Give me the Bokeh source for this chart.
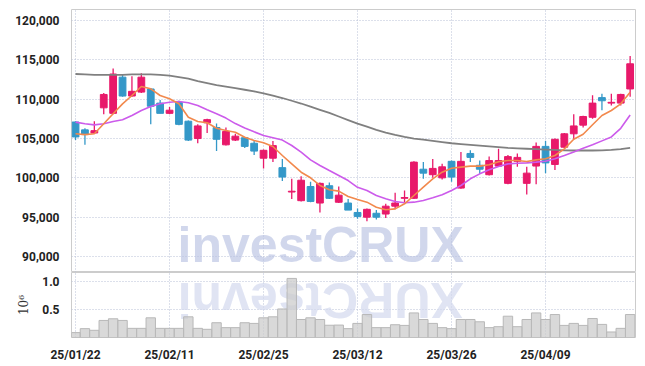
import math
from bokeh.plotting import figure
from bokeh.models import Range1d, FixedTicker, NumeralTickFormatter, Label, ColumnDataSource
from bokeh.layouts import column
from bokeh.embed import file_html
from bokeh.resources import INLINE

dates = ["2025-01-22", "2025-01-23", "2025-01-24", "2025-01-31",
         "2025-02-03", "2025-02-04", "2025-02-05", "2025-02-06", "2025-02-07", "2025-02-10",
         "2025-02-11", "2025-02-12", "2025-02-13", "2025-02-14", "2025-02-17", "2025-02-18",
         "2025-02-19", "2025-02-20", "2025-02-21", "2025-02-24", "2025-02-25", "2025-02-26",
         "2025-02-27", "2025-02-28",
         "2025-03-04", "2025-03-05", "2025-03-06", "2025-03-07", "2025-03-10", "2025-03-11",
         "2025-03-12", "2025-03-13", "2025-03-14", "2025-03-17", "2025-03-18", "2025-03-19",
         "2025-03-20", "2025-03-21", "2025-03-24", "2025-03-25", "2025-03-26", "2025-03-27",
         "2025-03-28", "2025-03-31",
         "2025-04-01", "2025-04-02", "2025-04-03", "2025-04-04", "2025-04-07", "2025-04-08",
         "2025-04-09", "2025-04-10", "2025-04-11", "2025-04-14", "2025-04-15", "2025-04-16",
         "2025-04-17", "2025-04-18", "2025-04-21", "2025-04-22"]

opens = [107100, 106100, 105700, 108900, 108200, 112800, 110400, 110900, 111300, 109500,
         108200, 109600, 107200, 105000, 107000, 106400, 104200, 104800, 105100, 104400,
         102500, 102500, 101300, 98200, 97100, 98900, 96800, 99000, 96900, 96800,
         95600, 95000, 95500, 95400, 96400, 97400, 97400, 101100, 100400, 100000,
         102100, 98700, 103100, 101600, 100400, 101500, 99300, 102100, 99300, 101500,
         104000, 101700, 103900, 105600, 106700, 107700, 110200, 109500, 109500, 111300]
highs = [107200, 106300, 107200, 110800, 113900, 113100, 112900, 113300, 111400, 109900,
         109000, 109800, 107300, 106800, 107500, 106900, 106400, 105600, 105200, 104700,
         103600, 104700, 102400, 99900, 100200, 99500, 99400, 99400, 98900, 97300,
         96100, 96100, 95900, 96700, 98100, 98400, 102100, 102000, 102400, 101800,
         102200, 103300, 103500, 102200, 102700, 103700, 102900, 103100, 101400, 104500,
         104700, 105000, 105700, 108100, 107900, 110500, 110700, 110700, 110700, 115500]
lows = [104800, 104200, 105600, 108100, 108100, 110300, 110300, 110800, 106800, 108200,
        108100, 106700, 104700, 104400, 105700, 103400, 104100, 104700, 103800, 102900,
        101200, 102000, 99600, 97300, 97000, 96900, 95600, 97300, 96800, 95900,
        94800, 94500, 94700, 94900, 96000, 96800, 97300, 99900, 100000, 99800,
        99500, 98600, 102000, 100500, 100300, 101400, 99200, 101400, 97900, 99200,
        100600, 101000, 103800, 104900, 106400, 107500, 108600, 109200, 109200, 110300]
closes = [105200, 105500, 106000, 110600, 113200, 110400, 111000, 112800, 109100, 108200,
          108600, 106800, 104800, 106600, 107400, 104900, 105900, 105300, 104000, 103400,
          103500, 104100, 100100, 98300, 99700, 97000, 99300, 97400, 97800, 95900,
          95100, 96000, 95000, 96400, 96800, 97500, 102000, 100600, 101200, 101400,
          100100, 102100, 102600, 101100, 102200, 102200, 102700, 102600, 100600, 104000,
          101900, 104900, 105600, 106600, 107800, 109500, 109800, 109600, 110600, 114500]

ma5 = [105600, 105500, 105600, 106870, 108140, 109410, 110470, 111610, 111320, 110470,
       110050, 109410, 107710, 107160, 107000, 106300, 106020, 105800, 105170, 104750,
       104450, 103990, 102840, 101780, 100720, 100010, 99030, 98480, 98310, 97630,
       97250, 96910, 96270, 95940, 96060, 96700, 97760, 98820, 99880, 100720,
       101230, 101360, 101490, 101490, 101660, 102050, 102200, 102200, 102080, 102290,
       102420, 102840, 103690, 104900, 105550, 106750, 107930, 108560, 109410, 110890]
ma20 = [107080, 106870, 106740, 106870, 107160, 107380, 107930, 108560, 109070, 109410,
        109620, 109700, 109540, 109200, 108650, 108150, 107600, 106900, 106350, 105850,
        105380, 105100, 104800, 104110, 103260, 102290, 101570, 100930, 100300, 99660,
        98800, 98390, 97760, 97340, 97000, 96830, 96910, 97120, 97460, 97840,
        98390, 99030, 99880, 100510, 101020, 101450, 101780, 101850, 101910, 102000,
        102120, 102420, 102840, 103300, 103750, 104200, 104700, 105200, 106300, 108000]
ma60 = [113200, 113150, 113100, 113100, 113100, 113100, 113150, 113150, 113150, 113100,
        113000, 112800, 112600, 112300, 112050, 111800, 111600, 111400, 111200, 111000,
        110750, 110450, 110150, 109800, 109450, 109050, 108650, 108250, 107800, 107350,
        106900, 106500, 106100, 105750, 105450, 105200, 105000, 104850, 104700, 104550,
        104400, 104300, 104200, 104100, 104000, 103900, 103800, 103750, 103700, 103650,
        103600, 103550, 103500, 103480, 103480, 103480, 103500, 103550, 103650, 103800]

volumes = [88000, 159000, 129000, 306000, 336000, 306000, 164000, 164000, 353000, 164000,
           164000, 164000, 371000, 164000, 147000, 265000, 177000, 177000, 265000, 253000,
           353000, 371000, 512000, 1060000, 323000, 353000, 323000, 220000, 223000, 159000,
           253000, 412000, 177000, 177000, 229000, 217000, 441000, 323000, 253000, 177000,
           159000, 323000, 323000, 282000, 177000, 194000, 382000, 194000, 323000, 441000,
           323000, 412000, 217000, 253000, 217000, 341000, 235000, 99000, 164000, 412000]

price_ticks = [90000, 95000, 100000, 105000, 110000, 115000, 120000]
volume_ticks = [0.5, 1.0]
label_every = 10
watermark = "investCRUX"

UP = "#E8196A"
DOWN = "#3498C8"
n = len(dates)
idx = list(range(n))
colors = [UP if c >= o else DOWN for o, c in zip(opens, closes)]
src = ColumnDataSource(dict(
    x=idx, o=opens, h=highs, l=lows, c=closes,
    top=[max(o, c) for o, c in zip(opens, closes)],
    bottom=[min(o, c) for o, c in zip(opens, closes)],
    color=colors, ma5=ma5, ma20=ma20, ma60=ma60,
    vol=[v / 1e6 for v in volumes],
))

FONT = "Roboto"
GRID = "#b9c0d6"
W = 645
xr = Range1d(-0.43, n - 0.43)
tick_pos = list(range(0, n, label_every))
wm_x = (n - 1) * 0.442

p = figure(width=W, height=272, x_range=xr, y_range=Range1d(87970, 121400),
           output_backend="svg", toolbar_location=None,
           min_border_left=71, min_border_right=10, min_border_top=9, min_border_bottom=0)
p.xaxis.visible = False
p.xaxis.ticker = FixedTicker(ticks=tick_pos)
p.xgrid.ticker = FixedTicker(ticks=tick_pos)
p.yaxis.ticker = FixedTicker(ticks=price_ticks)
p.yaxis.formatter = NumeralTickFormatter(format="0,0")
for g in (p.xgrid, p.ygrid):
    g.grid_line_color = GRID
    g.grid_line_dash = "1 2"
    g.grid_line_width = 1
p.yaxis.axis_line_color = None
p.yaxis.major_tick_line_color = None
p.yaxis.minor_tick_line_color = None
p.yaxis.major_label_standoff = 6
p.yaxis.major_label_text_font = FONT
p.yaxis.major_label_text_font_style = "bold"
p.yaxis.major_label_text_font_size = "12px"
p.yaxis.major_label_text_color = "#222222"
p.outline_line_color = "#cccccc"

wm = Label(x=wm_x, y=91500, text=watermark, text_font="Liberation Sans",
           text_font_style="bold", text_font_size="50px", text_color="#b9c2e2",
           text_alpha=0.65, text_align="center", text_baseline="middle", level="underlay")
p.add_layout(wm)

p.segment(x0="x", y0="h", x1="x", y1="l", color="color", line_width=1.3, source=src)
p.vbar(x="x", top="top", bottom="bottom", width=0.72, fill_color="color",
       line_color="color", line_width=1, source=src)
p.line("x", "ma60", color="#808080", line_width=1.8, source=src)
p.line("x", "ma20", color="#CC5BEB", line_width=1.6, source=src)
p.line("x", "ma5", color="#F2894D", line_width=1.6, source=src)

v = figure(width=W, height=92, x_range=xr, y_range=Range1d(0, 1.166),
           output_backend="svg", toolbar_location=None,
           min_border_left=71, min_border_right=10, min_border_top=0, min_border_bottom=26)
v.xaxis.ticker = FixedTicker(ticks=tick_pos)
v.xgrid.ticker = FixedTicker(ticks=tick_pos)
v.xaxis.major_label_overrides = {i: dates[i][2:].replace("-", "/") for i in tick_pos}
v.yaxis.ticker = FixedTicker(ticks=volume_ticks)
v.yaxis.formatter = NumeralTickFormatter(format="0.0")
v.yaxis.axis_label = "10\u2076"
v.yaxis.axis_label_text_font = "DejaVu Serif"
v.yaxis.axis_label_text_font_style = "normal"
v.yaxis.axis_label_text_font_size = "12px"
v.yaxis.axis_label_text_color = "#333333"
v.yaxis.axis_label_standoff = 8
for g in (v.xgrid, v.ygrid):
    g.grid_line_color = GRID
    g.grid_line_dash = "1 2"
    g.grid_line_width = 1
for ax in (v.xaxis, v.yaxis):
    ax.axis_line_color = None
    ax.major_tick_line_color = None
    ax.minor_tick_line_color = None
    ax.major_label_text_font = FONT
    ax.major_label_text_font_style = "bold"
    ax.major_label_text_font_size = "12px"
    ax.major_label_text_color = "#222222"
v.yaxis.major_label_standoff = 6
v.xaxis.major_label_standoff = 4
v.outline_line_color = "#cccccc"

# mirrored reflection of the watermark (180-degree turn of the reversed word)
refl = Label(x=wm_x, y=0.67, text=watermark[::-1], angle=math.pi,
             text_font="Liberation Sans", text_font_style="bold", text_font_size="50px",
             text_color="#d3d8ee", text_alpha=0.7, text_align="center",
             text_baseline="middle", level="underlay")
v.add_layout(refl)
v.vbar(x="x", top="vol", width=1.0, fill_color="#cccccc", fill_alpha=0.75,
       line_color="#b8b8b8", line_width=1, source=src)

layout = column(p, v)
open("out.html", "w").write(file_html(layout, INLINE))
